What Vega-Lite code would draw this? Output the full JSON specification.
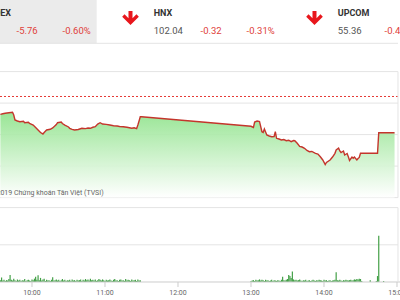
{
"$schema": "https://vega.github.io/schema/vega-lite/v6.json",
"width": 400,
"height": 300,
"autosize": {"type": "none"},
"padding": 0,
"background": "#ffffff",
"config": {"view": {"stroke": null}, "font": "Roboto"},
"layer": [
{
"data": {"values": [
{"tile": 0, "name": "VN-INDEX", "value": "955.29", "chg": "-5.76", "pct": "-0.60%"},
{"tile": 1, "name": "HNX", "value": "102.04", "chg": "-0.32", "pct": "-0.31%"},
{"tile": 2, "name": "UPCOM", "value": "55.36", "chg": "-0.40", "pct": "-0.72%"}
]},
"layer": [
{"transform": [{"filter": "datum.tile == 0"}],
"mark": {"type": "rect", "color": "#ebebeb"},
"encoding": {
"x": {"field": "tile", "type": "quantitative", "scale": {"domain": [0.47446, 2.64837], "nice": false, "zero": false}, "axis": null},
"x2": {"datum": 1},
"y": {"datum": -0.7303, "type": "quantitative", "scale": {"domain": [-0.7303, 16.124], "reverse": true, "nice": false, "zero": false}, "axis": null},
"y2": {"datum": 1.702}}},
{"mark": {"type": "point", "shape": "M7.95,-1.75L8.95,-1.75L8.95,0.085L9.94,-0.91L10.53,-0.33L8.45,1.75L6.37,-0.33L6.96,-0.91L7.95,0.085Z", "size": 64, "filled": true, "color": "#e8161c", "opacity": 1, "strokeWidth": 0},
"encoding": {
"x": {"field": "tile", "type": "quantitative", "scale": {"domain": [0.47446, 2.64837], "nice": false, "zero": false}, "axis": null},
"y": {"datum": 0.281, "type": "quantitative", "scale": {"domain": [-0.7303, 16.124], "reverse": true, "nice": false, "zero": false}, "axis": null}}},
{"mark": {"type": "text", "align": "left", "baseline": "middle", "dx": 57, "fontSize": 9, "fontWeight": "bold", "color": "#333333"},
"encoding": {
"x": {"field": "tile", "type": "quantitative", "scale": {"domain": [0.47446, 2.64837], "nice": false, "zero": false}, "axis": null},
"y": {"datum": 0, "type": "quantitative", "scale": {"domain": [-0.7303, 16.124], "reverse": true, "nice": false, "zero": false}, "axis": null},
"text": {"field": "name"}}},
{"mark": {"type": "text", "align": "left", "baseline": "middle", "dx": 57, "fontSize": 9.5, "color": "#555555"},
"encoding": {
"x": {"field": "tile", "type": "quantitative", "scale": {"domain": [0.47446, 2.64837], "nice": false, "zero": false}, "axis": null},
"y": {"datum": 1, "type": "quantitative", "scale": {"domain": [-0.7303, 16.124], "reverse": true, "nice": false, "zero": false}, "axis": null},
"text": {"field": "value"}}},
{"mark": {"type": "text", "align": "right", "baseline": "middle", "dx": 125, "fontSize": 9.5, "color": "#e0403a"},
"encoding": {
"x": {"field": "tile", "type": "quantitative", "scale": {"domain": [0.47446, 2.64837], "nice": false, "zero": false}, "axis": null},
"y": {"datum": 1, "type": "quantitative", "scale": {"domain": [-0.7303, 16.124], "reverse": true, "nice": false, "zero": false}, "axis": null},
"text": {"field": "chg"}}},
{"mark": {"type": "text", "align": "right", "baseline": "middle", "dx": 178, "fontSize": 9.5, "color": "#e0403a"},
"encoding": {
"x": {"field": "tile", "type": "quantitative", "scale": {"domain": [0.47446, 2.64837], "nice": false, "zero": false}, "axis": null},
"y": {"datum": 1, "type": "quantitative", "scale": {"domain": [-0.7303, 16.124], "reverse": true, "nice": false, "zero": false}, "axis": null},
"text": {"field": "pct"}}}
]
},
{
"layer": [
{
"layer": [
{"data": {"values": [{"g": 945}, {"g": 950}, {"g": 955}, {"g": 960}, {"g": 965}, {"g": 969.49}]},
"mark": {"type": "rule", "color": "#e4e4e4", "strokeWidth": 1},
"encoding": {
"x": {"datum": 573.7, "type": "quantitative", "scale": {"domain": [573.7, 902.47], "nice": false, "zero": false, "padding": 0}, "axis": null},
"x2": {"datum": 900.82},
"y": {"field": "g", "type": "quantitative", "scale": {"domain": [928.746, 976.365], "nice": false, "zero": false}, "axis": null}}},
{"data": {"values": [
{"m": 574, "p": 958.22}, {"m": 576, "p": 958.30}, {"m": 578, "p": 958.38}, {"m": 581, "p": 958.46}, {"m": 584, "p": 958.54}, {"m": 585, "p": 958.11}, {"m": 586, "p": 957.32}, {"m": 588, "p": 957.16}, {"m": 590, "p": 957.05}, {"m": 593, "p": 957.11}, {"m": 594, "p": 956.89}, {"m": 597, "p": 956.97}, {"m": 598, "p": 956.76},
{"m": 601, "p": 956.52}, {"m": 603, "p": 956.13}, {"m": 605, "p": 955.73}, {"m": 607, "p": 955.33}, {"m": 609, "p": 955.10}, {"m": 610, "p": 955.33}, {"m": 612, "p": 955.73}, {"m": 615, "p": 955.84}, {"m": 617, "p": 956.05}, {"m": 620, "p": 956.60}, {"m": 621, "p": 956.89}, {"m": 624, "p": 957.00}, {"m": 625, "p": 956.76}, {"m": 627, "p": 956.52}, {"m": 630, "p": 956.21}, {"m": 631, "p": 956.00}, {"m": 633, "p": 955.84}, {"m": 635, "p": 955.73}, {"m": 638, "p": 955.81}, {"m": 641, "p": 956.00}, {"m": 644, "p": 955.95}, {"m": 646, "p": 956.05}, {"m": 648, "p": 956.00}, {"m": 650, "p": 956.16}, {"m": 652, "p": 956.25}, {"m": 654, "p": 956.68}, {"m": 656, "p": 956.89}, {"m": 658, "p": 956.68},
{"m": 661, "p": 956.63}, {"m": 664, "p": 956.52}, {"m": 667, "p": 956.40}, {"m": 670, "p": 956.37}, {"m": 672, "p": 956.29}, {"m": 675, "p": 956.25}, {"m": 678, "p": 956.16}, {"m": 682, "p": 956.00}, {"m": 684, "p": 956.08}, {"m": 686, "p": 955.94}, {"m": 687, "p": 956.52}, {"m": 688, "p": 957.16}, {"m": 689, "p": 957.84}, {"m": 690, "p": 957.84},
{"m": 780, "p": 956.32}, {"m": 782, "p": 956.13}, {"m": 783, "p": 957.00}, {"m": 785, "p": 957.16}, {"m": 787, "p": 957.08}, {"m": 789, "p": 955.46}, {"m": 790, "p": 955.33}, {"m": 791, "p": 955.89}, {"m": 793, "p": 954.94}, {"m": 795, "p": 954.78}, {"m": 797, "p": 954.67}, {"m": 799, "p": 954.70}, {"m": 800, "p": 955.46}, {"m": 801, "p": 954.41}, {"m": 803, "p": 954.30}, {"m": 805, "p": 954.14}, {"m": 807, "p": 954.22}, {"m": 809, "p": 954.03}, {"m": 811, "p": 954.10}, {"m": 813, "p": 953.87}, {"m": 815, "p": 954.06}, {"m": 816, "p": 954.03}, {"m": 818, "p": 953.62}, {"m": 820, "p": 953.14}, {"m": 822, "p": 953.03}, {"m": 824, "p": 952.83}, {"m": 826, "p": 952.48}, {"m": 828, "p": 952.29}, {"m": 830, "p": 952.32}, {"m": 833, "p": 952.03}, {"m": 835, "p": 951.92}, {"m": 837, "p": 951.49}, {"m": 839, "p": 950.97},
{"m": 841, "p": 950.25}, {"m": 842, "p": 950.57}, {"m": 845, "p": 950.97}, {"m": 847, "p": 951.44}, {"m": 849, "p": 952.03}, {"m": 850, "p": 952.56}, {"m": 852, "p": 952.87}, {"m": 853, "p": 952.40}, {"m": 854, "p": 952.16}, {"m": 856, "p": 952.40}, {"m": 857, "p": 951.76}, {"m": 859, "p": 952.00}, {"m": 860, "p": 951.49}, {"m": 861, "p": 950.89}, {"m": 863, "p": 951.44}, {"m": 864, "p": 951.24}, {"m": 865, "p": 951.44}, {"m": 867, "p": 950.97}, {"m": 868, "p": 951.21}, {"m": 869, "p": 951.37}, {"m": 870, "p": 952.03}, {"m": 884, "p": 952.03}, {"m": 885, "p": 955.29}, {"m": 898, "p": 955.29}
]},
"layer": [
{"mark": {"type": "area", "clip": true, "opacity": 0.92, "color": {"gradient": "linear", "x1": 0, "y1": 0, "x2": 0, "y2": 1, "stops": [{"offset": 0, "color": "#90e38c"}, {"offset": 1, "color": "#ffffff"}]}},
"encoding": {
"x": {"field": "m", "type": "quantitative", "scale": {"domain": [573.7, 902.47], "nice": false, "zero": false, "padding": 0}, "axis": null},
"y": {"field": "p", "type": "quantitative", "scale": {"domain": [928.746, 976.365], "nice": false, "zero": false}, "axis": null},
"y2": {"datum": 945}}},
{"mark": {"type": "line", "clip": true, "color": "#c4352c", "strokeWidth": 1.4},
"encoding": {
"x": {"field": "m", "type": "quantitative", "scale": {"domain": [573.7, 902.47], "nice": false, "zero": false, "padding": 0}, "axis": null},
"y": {"field": "p", "type": "quantitative", "scale": {"domain": [928.746, 976.365], "nice": false, "zero": false}, "axis": null}}}
]},
{"data": {"values": [{}]},
"mark": {"type": "rule", "color": "#e53935", "strokeDash": [2, 2], "strokeWidth": 1},
"encoding": {
"x": {"datum": 573.7, "type": "quantitative", "scale": {"domain": [573.7, 902.47], "nice": false, "zero": false, "padding": 0}, "axis": null},
"x2": {"datum": 900.82},
"y": {"datum": 961.05, "type": "quantitative", "scale": {"domain": [928.746, 976.365], "nice": false, "zero": false}, "axis": null}}},
{"data": {"values": [{}]},
"mark": {"type": "rule", "color": "#e4e4e4"},
"encoding": {
"x": {"datum": 900.82, "type": "quantitative", "scale": {"domain": [573.7, 902.47], "nice": false, "zero": false, "padding": 0}, "axis": null},
"y": {"datum": 965, "type": "quantitative", "scale": {"domain": [928.746, 976.365], "nice": false, "zero": false}, "axis": null},
"y2": {"datum": 945}}},
{"data": {"values": [{}]},
"mark": {"type": "text", "align": "left", "baseline": "alphabetic", "dx": 12, "dy": -3, "fontSize": 7, "color": "#666666", "text": "© 2019 Chứng khoán Tân Việt (TVSI)"},
"encoding": {
"x": {"datum": 555, "type": "quantitative", "scale": {"domain": [573.7, 902.47], "nice": false, "zero": false, "padding": 0}, "axis": null},
"y": {"datum": 945, "type": "quantitative", "scale": {"domain": [928.746, 976.365], "nice": false, "zero": false}, "axis": null}}}
]
},
{
"layer": [
{"data": {"values": [{"g": 10}, {"g": 20}]},
"mark": {"type": "rule", "color": "#e4e4e4", "strokeWidth": 1},
"encoding": {
"x": {"datum": 573.7, "type": "quantitative", "scale": {"domain": [573.7, 902.47], "nice": false, "zero": false, "padding": 0}, "axis": null},
"x2": {"datum": 900.82},
"y": {"field": "g", "type": "quantitative", "scale": {"domain": [-4.839, 75.806], "nice": false, "zero": false}, "axis": null}}},
{"data": {"values": [
{"m": 574, "v": 0.5}, {"m": 575, "v": 1.2}, {"m": 576, "v": 0.4}, {"m": 577, "v": 0.6}, {"m": 578, "v": 0.3}, {"m": 579, "v": 0.5}, {"m": 580, "v": 0.4}, {"m": 581, "v": 0.8}, {"m": 582, "v": 1.9}, {"m": 583, "v": 0.6}, {"m": 584, "v": 0.4}, {"m": 585, "v": 0.9}, {"m": 586, "v": 0.5}, {"m": 587, "v": 0.3}, {"m": 588, "v": 0.7}, {"m": 589, "v": 0.4}, {"m": 590, "v": 0.6}, {"m": 591, "v": 0.3}, {"m": 592, "v": 0.5}, {"m": 593, "v": 0.4}, {"m": 594, "v": 0.8}, {"m": 595, "v": 0.3}, {"m": 596, "v": 0.5}, {"m": 597, "v": 0.6}, {"m": 598, "v": 0.4}, {"m": 599, "v": 0.3},
{"m": 600, "v": 0.7}, {"m": 601, "v": 0.5}, {"m": 602, "v": 0.9}, {"m": 603, "v": 1.4}, {"m": 604, "v": 0.6}, {"m": 605, "v": 1.8}, {"m": 606, "v": 0.5}, {"m": 607, "v": 1.1}, {"m": 608, "v": 0.4}, {"m": 609, "v": 0.7}, {"m": 610, "v": 0.9}, {"m": 611, "v": 0.3}, {"m": 612, "v": 0.6}, {"m": 613, "v": 0.4}, {"m": 614, "v": 0.5}, {"m": 615, "v": 0.3}, {"m": 616, "v": 0.6}, {"m": 617, "v": 1.3}, {"m": 618, "v": 0.4}, {"m": 619, "v": 0.5}, {"m": 620, "v": 0.7}, {"m": 621, "v": 0.4}, {"m": 622, "v": 0.6}, {"m": 623, "v": 0.3}, {"m": 624, "v": 0.5}, {"m": 625, "v": 0.8}, {"m": 626, "v": 0.4}, {"m": 627, "v": 0.6}, {"m": 628, "v": 0.3}, {"m": 629, "v": 0.5},
{"m": 630, "v": 0.4}, {"m": 631, "v": 0.6}, {"m": 632, "v": 0.3}, {"m": 633, "v": 0.7}, {"m": 634, "v": 0.4}, {"m": 635, "v": 0.5}, {"m": 636, "v": 0.3}, {"m": 637, "v": 0.6}, {"m": 638, "v": 0.4}, {"m": 639, "v": 0.5}, {"m": 640, "v": 0.7}, {"m": 641, "v": 0.3}, {"m": 642, "v": 0.6}, {"m": 643, "v": 0.4}, {"m": 644, "v": 0.8}, {"m": 645, "v": 0.5}, {"m": 646, "v": 0.7}, {"m": 647, "v": 0.4}, {"m": 648, "v": 0.9}, {"m": 649, "v": 0.5}, {"m": 650, "v": 0.6}, {"m": 651, "v": 0.4}, {"m": 652, "v": 0.7}, {"m": 653, "v": 0.3}, {"m": 654, "v": 0.5}, {"m": 655, "v": 0.8}, {"m": 656, "v": 0.6}, {"m": 657, "v": 0.4}, {"m": 658, "v": 0.7}, {"m": 659, "v": 0.5},
{"m": 660, "v": 0.3}, {"m": 661, "v": 0.6}, {"m": 662, "v": 0.4}, {"m": 663, "v": 0.5}, {"m": 664, "v": 0.7}, {"m": 665, "v": 0.4}, {"m": 666, "v": 0.3}, {"m": 667, "v": 0.6}, {"m": 668, "v": 0.8}, {"m": 669, "v": 0.4}, {"m": 670, "v": 0.5}, {"m": 671, "v": 0.3}, {"m": 672, "v": 0.6}, {"m": 673, "v": 0.7}, {"m": 674, "v": 0.4}, {"m": 675, "v": 0.5}, {"m": 676, "v": 0.3}, {"m": 677, "v": 0.8}, {"m": 678, "v": 0.4}, {"m": 679, "v": 0.6}, {"m": 680, "v": 0.5}, {"m": 681, "v": 0.3}, {"m": 682, "v": 0.7}, {"m": 683, "v": 0.4}, {"m": 684, "v": 0.5}, {"m": 685, "v": 0.6}, {"m": 686, "v": 0.3}, {"m": 687, "v": 0.7}, {"m": 688, "v": 0.4}, {"m": 689, "v": 0.5},
{"m": 780, "v": 0.3}, {"m": 781, "v": 0.4}, {"m": 782, "v": 0.5}, {"m": 783, "v": 0.3}, {"m": 784, "v": 0.6}, {"m": 785, "v": 0.4}, {"m": 786, "v": 0.5}, {"m": 787, "v": 0.7}, {"m": 788, "v": 0.4}, {"m": 789, "v": 0.6}, {"m": 790, "v": 0.5}, {"m": 791, "v": 0.3}, {"m": 792, "v": 0.6}, {"m": 793, "v": 0.4}, {"m": 794, "v": 0.5}, {"m": 795, "v": 0.3}, {"m": 796, "v": 0.4}, {"m": 797, "v": 0.6}, {"m": 798, "v": 0.3}, {"m": 799, "v": 0.5}, {"m": 800, "v": 0.4}, {"m": 801, "v": 0.3}, {"m": 802, "v": 0.5}, {"m": 803, "v": 0.4}, {"m": 804, "v": 0.3}, {"m": 805, "v": 0.6}, {"m": 806, "v": 1.4}, {"m": 807, "v": 0.5}, {"m": 808, "v": 0.4}, {"m": 809, "v": 0.6},
{"m": 810, "v": 0.8}, {"m": 811, "v": 1.9}, {"m": 812, "v": 1.6}, {"m": 813, "v": 1.1}, {"m": 814, "v": 2.8}, {"m": 815, "v": 0.7}, {"m": 816, "v": 0.5}, {"m": 817, "v": 0.6}, {"m": 818, "v": 0.4}, {"m": 819, "v": 0.5}, {"m": 820, "v": 0.7}, {"m": 821, "v": 0.4}, {"m": 822, "v": 0.3}, {"m": 823, "v": 0.5}, {"m": 824, "v": 0.4}, {"m": 825, "v": 0.6}, {"m": 826, "v": 0.3}, {"m": 827, "v": 0.4}, {"m": 828, "v": 0.5}, {"m": 829, "v": 0.3}, {"m": 830, "v": 0.4}, {"m": 831, "v": 0.6}, {"m": 832, "v": 0.4}, {"m": 833, "v": 0.3}, {"m": 834, "v": 0.5}, {"m": 835, "v": 0.4}, {"m": 836, "v": 0.6}, {"m": 837, "v": 0.5}, {"m": 838, "v": 0.4}, {"m": 839, "v": 0.3},
{"m": 840, "v": 0.6}, {"m": 841, "v": 0.4}, {"m": 842, "v": 0.5}, {"m": 843, "v": 0.3}, {"m": 844, "v": 0.4}, {"m": 845, "v": 0.5}, {"m": 846, "v": 0.3}, {"m": 847, "v": 0.4}, {"m": 848, "v": 0.5}, {"m": 849, "v": 0.6}, {"m": 850, "v": 2.6}, {"m": 851, "v": 0.5}, {"m": 852, "v": 0.4}, {"m": 853, "v": 0.6}, {"m": 854, "v": 0.4}, {"m": 855, "v": 0.3}, {"m": 856, "v": 0.5}, {"m": 857, "v": 0.4}, {"m": 858, "v": 0.6}, {"m": 859, "v": 0.5}, {"m": 860, "v": 0.4}, {"m": 861, "v": 0.5}, {"m": 862, "v": 0.6}, {"m": 863, "v": 0.4}, {"m": 864, "v": 0.5}, {"m": 865, "v": 0.7}, {"m": 866, "v": 0.6}, {"m": 867, "v": 0.8}, {"m": 868, "v": 0.7}, {"m": 869, "v": 0.9},
{"m": 870, "v": 0.8}, {"m": 871, "v": 0.3}, {"m": 878, "v": 0.5}, {"m": 883, "v": 0.3}, {"m": 884, "v": 1.6}, {"m": 885, "v": 12.4}, {"m": 889, "v": 0.3}
]},
"mark": {"type": "bar", "color": "#43a047", "width": 1.2, "clip": true},
"encoding": {
"x": {"field": "m", "type": "quantitative", "scale": {"domain": [573.7, 902.47], "nice": false, "zero": false, "padding": 0}, "axis": null},
"y": {"field": "v", "type": "quantitative", "scale": {"domain": [-4.839, 75.806], "nice": false, "zero": false}, "axis": null},
"y2": {"datum": 0}}},
{"data": {"values": [{}]},
"mark": {"type": "rule", "color": "#cccccc"},
"encoding": {
"x": {"datum": 573.7, "type": "quantitative", "scale": {"domain": [573.7, 902.47], "nice": false, "zero": false, "padding": 0}, "axis": null},
"x2": {"datum": 902.47},
"y": {"datum": 0, "type": "quantitative", "scale": {"domain": [-4.839, 75.806], "nice": false, "zero": false}, "axis": null}}},
{"data": {"values": [{}]},
"mark": {"type": "rule", "color": "#e4e4e4"},
"encoding": {
"x": {"datum": 900.82, "type": "quantitative", "scale": {"domain": [573.7, 902.47], "nice": false, "zero": false, "padding": 0}, "axis": null},
"y": {"datum": 0, "type": "quantitative", "scale": {"domain": [-4.839, 75.806], "nice": false, "zero": false}, "axis": null},
"y2": {"datum": 20}}},
{"data": {"values": [
{"m": 600, "label": "10:00"}, {"m": 660, "label": "11:00"}, {"m": 720, "label": "12:00"}, {"m": 780, "label": "13:00"}, {"m": 840, "label": "14:00"}, {"m": 900, "label": "15:00"}
]},
"layer": [
{"mark": {"type": "rule", "color": "#cccccc"},
"encoding": {
"x": {"field": "m", "type": "quantitative", "scale": {"domain": [573.7, 902.47], "nice": false, "zero": false, "padding": 0}, "axis": null},
"y": {"datum": 0, "type": "quantitative", "scale": {"domain": [-4.839, 75.806], "nice": false, "zero": false}, "axis": null},
"y2": {"datum": -1.344}}},
{"mark": {"type": "text", "align": "center", "baseline": "middle", "fontSize": 7, "color": "#666666"},
"encoding": {
"x": {"field": "m", "type": "quantitative", "scale": {"domain": [573.7, 902.47], "nice": false, "zero": false, "padding": 0}, "axis": null},
"y": {"datum": -2.9, "type": "quantitative", "scale": {"domain": [-4.839, 75.806], "nice": false, "zero": false}, "axis": null},
"text": {"field": "label"}}}
]}
]
}
],
"resolve": {"scale": {"y": "independent"}}
}
],
"resolve": {"scale": {"x": "independent", "y": "independent"}}
}
